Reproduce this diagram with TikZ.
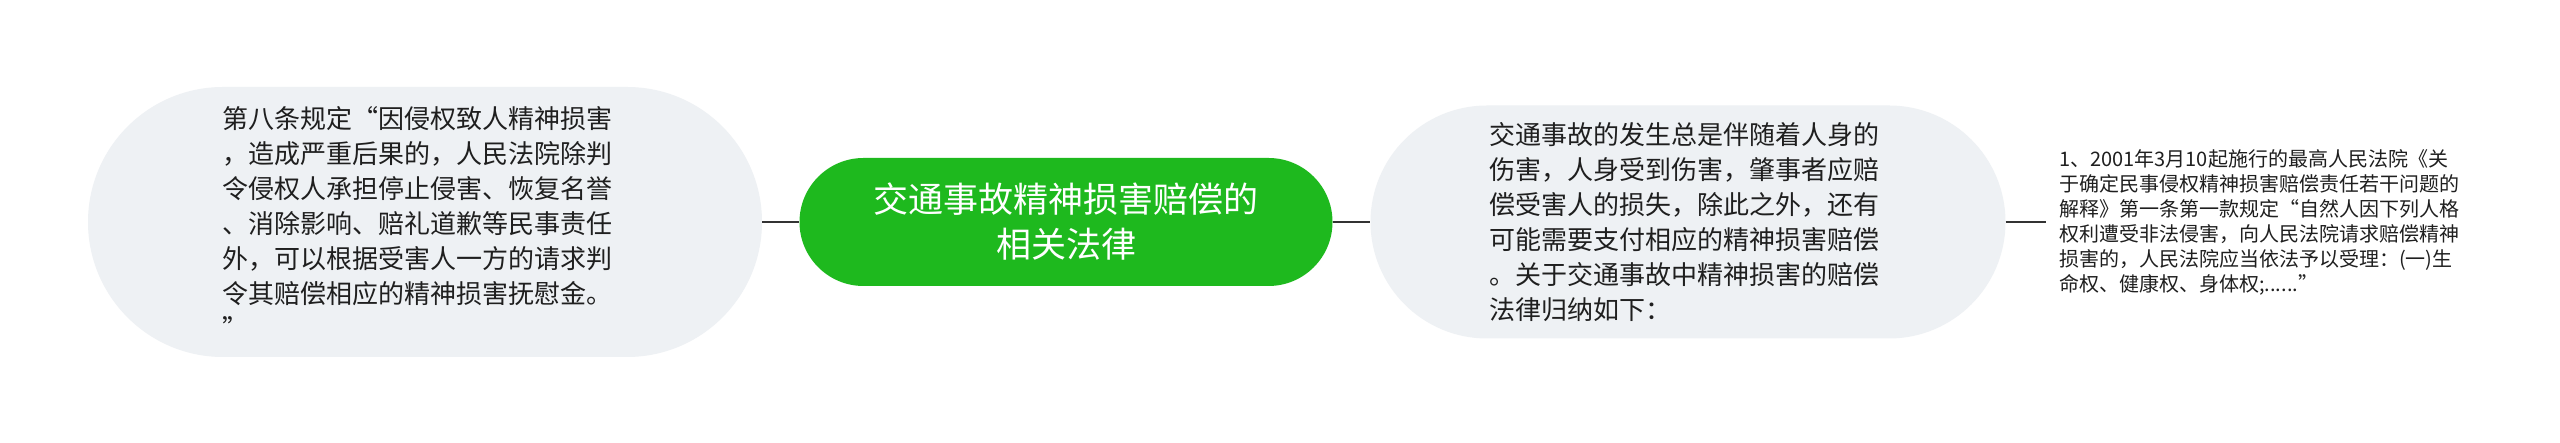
\documentclass[tikz,border=0pt]{standalone}
\usepackage{fontspec}
\setmainfont{Noto Sans CJK SC}
\usetikzlibrary{shapes.misc}
\definecolor{nodegray}{HTML}{EEF1F4}
\definecolor{topgreen}{HTML}{1EB91E}
\definecolor{linegray}{HTML}{333333}
\definecolor{txt}{HTML}{1F1F1F}
\begin{document}
\begin{tikzpicture}[x=1pt,y=1pt,
  bubble/.style={rounded rectangle, fill=nodegray, draw=none, text=txt, align=left, inner sep=0pt},
  topic/.style={rounded rectangle, fill=topgreen, draw=none, text=white, align=center, inner sep=0pt},
  plain/.style={draw=none, text=txt, align=left, inner sep=13pt},
  conn/.style={draw=linegray, line width=2pt}]
\useasboundingbox (0,0) rectangle (2560,443);
\fill[white] (0,0) rectangle (2560,443);
\node[bubble, minimum width=674pt, minimum height=270pt, font=\fontsize{26}{35}\selectfont] (L) at (425,221)
 {第八条规定“因侵权致人精神损害\hspace*{16pt}\\，造成严重后果的，人民法院除判\\令侵权人承担停止侵害、恢复名誉\\、消除影响、赔礼道歉等民事责任\\外，可以根据受害人一方的请求判\\令其赔偿相应的精神损害抚慰金。\\”};
\node[topic, minimum width=533pt, minimum height=128pt, font=\fontsize{35}{45}\selectfont] (C) at (1066,221)
 {交通事故精神损害赔偿的\\相关法律};
\node[bubble, minimum width=635pt, minimum height=233pt, font=\fontsize{26}{35}\selectfont] (M) at (1688,221)
 {交通事故的发生总是伴随着人身的\hspace*{8pt}\\伤害，人身受到伤害，肇事者应赔\\偿受害人的损失，除此之外，还有\\可能需要支付相应的精神损害赔偿\\。关于交通事故中精神损害的赔偿\\法律归纳如下：};
\node[plain, anchor=west, font=\fontsize{20}{25}\selectfont] (R) at (2046,221)
 {1、2001年3月10起施行的最高人民法院《关\\于确定民事侵权精神损害赔偿责任若干问题的\\解释》第一条第一款规定“自然人因下列人格\\权利遭受非法侵害，向人民法院请求赔偿精神\\损害的，人民法院应当依法予以受理：(一)生\\命权、健康权、身体权;......”};
\draw[conn] (L.east) -- (C.west);
\draw[conn] (C.east) -- (M.west);
\draw[conn] (M.east) -- (R.west);
\end{tikzpicture}
\end{document}
